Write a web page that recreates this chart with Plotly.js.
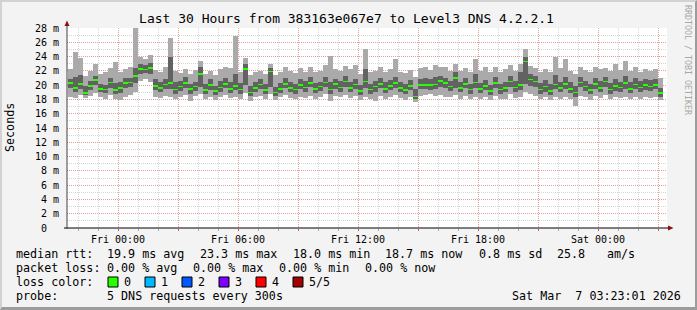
<!DOCTYPE html>
<html>
<head>
<meta charset="utf-8">
<script src="https://cdn.plot.ly/plotly-3.0.1.min.js"></script>
<style>
  html, body { margin: 0; padding: 0; background: #f3f3f3; }
  #wrap { position: relative; width: 697px; height: 310px; overflow: hidden; }
  #chart { width: 697px; height: 310px; }
  #frame { position: absolute; left: 0; top: 0; width: 697px; height: 310px; box-sizing: border-box;
           border-top: 2px solid #d2d2d2; border-left: 2px solid #d2d2d2;
           border-right: 2px solid #9c9c9c; border-bottom: 3px solid #9c9c9c; pointer-events: none; }
</style>
</head>
<body>
<div id="wrap"><div id="chart"></div><div id="frame"></div></div>
<script>
// ---- data (milliseconds), 15-minute consolidated steps starting Thu 2026-03-05 21:30 ----
const stepMinutes = 15;
const firstStep = [2026, 2, 5, 21, 30]; // year, month(0-based), day, hour, minute

const medianMs = [
  20.3,19.6,20.2,18.9, 19.9,20.7,19.5,19.4, 20.4,19.3,19.6,20.3,
  20.4,21.3,22.3,22.2, 22.4,19.9,19.6,20.1, 20.3,19.4,19.8,20.3,
  19.5,19.8,21.6,19.3, 20.0,19.2,19.7,20.2, 19.5,19.9,19.4,22.3,
  19.0,19.6,20.1,19.3, 21.9,19.0,19.5,20.2, 19.6,19.4,20.0,19.7,
  20.3,19.5,19.8,20.4, 19.4,20.2,19.7,20.5, 19.6,20.1,19.2,20.5,
  19.4,19.8,20.2,19.5, 19.9,20.3,19.6,19.3, 19.9,18.4,20.0,20.0,
  20.0,20.1,20.6,20.3, 19.8,21.0,19.6,20.2, 19.4,20.4,19.5,19.9,
  19.2,20.3,19.4,19.6, 20.5,19.7,20.0,23.3, 20.8,20.5,19.4,19.8,
  19.2,20.1,19.6,20.2, 19.5,19.0,20.4,19.8, 19.3,20.2,19.6,20.5,
  19.4,19.9,19.7,20.3, 19.5,20.1,19.7,20.0, 19.8,20.0,18.9
];
const minMs = [
  18.4,18.2,18.6,18.2, 18.5,18.9,18.3,18.1, 18.6,18.0,17.9,18.4,
  18.6,19.0,20.6,20.8, 20.4,18.4,18.2,18.5, 18.3,18.0,18.4,18.6,
  17.8,18.5,18.8,18.1, 18.3,17.9,18.4,18.6, 18.2,18.3,18.0,18.9,
  17.8,18.3,18.5,18.0, 18.7,17.9,18.3,18.6, 18.2,18.1,18.4,18.2,
  18.5,18.0,18.4,18.7, 17.8,18.5,18.3,18.6, 18.2,18.5,17.9,18.4,
  18.0,17.8,18.5,18.1, 18.3,18.6,18.2,17.9, 18.4,17.6,18.5,18.6,
  18.7,18.5,18.6,18.4, 18.3,18.6,18.1,18.5, 18.0,18.4,18.0,18.3,
  17.9,18.5,18.0,18.1, 18.7,18.2,18.4,19.0, 18.7,18.5,18.0,18.3,
  17.9,18.4,18.1,18.3, 18.0,17.1,18.5,18.3, 17.9,18.5,18.2,18.6,
  18.0,18.3,18.2,18.4, 18.0,18.4,18.1,18.3, 18.2,18.4,17.9
];
const ping2Ms = [
  19.6,19.0,19.5,18.6, 19.3,20.0,19.0,18.9, 19.6,18.8,18.9,19.6,
  19.8,20.3,21.6,21.7, 21.6,19.3,19.0,19.4, 19.5,18.8,19.2,19.6,
  18.8,19.2,19.7,18.7, 19.3,18.6,19.1,19.6, 18.9,19.3,18.8,20.0,
  18.5,19.0,19.5,18.8, 19.8,18.5,18.9,19.6, 19.0,18.8,19.4,19.1,
  19.7,18.9,19.2,19.8, 18.7,19.5,19.1,19.8, 19.0,19.4,18.6,19.6,
  18.8,19.0,19.6,18.9, 19.3,19.6,19.0,18.7, 19.3,18.0,19.4,19.4,
  19.3,19.4,19.7,19.6, 19.2,19.6,19.0,19.6, 18.8,19.6,18.9,19.3,
  18.6,19.6,18.8,19.0, 19.8,19.1,19.3,20.2, 19.9,19.7,18.8,19.1,
  18.6,19.4,19.0,19.4, 18.9,18.3,19.7,19.2, 18.7,19.5,19.0,19.8,
  18.8,19.2,19.1,19.5, 18.9,19.4,19.1,19.3, 19.2,19.4,18.4
];
const ping4Ms = [
  20.8,21.2,21.4,19.9, 20.6,21.3,20.2,20.0, 21.0,20.3,20.4,21.0,
  21.0,22.4,23.0,22.8, 23.1,20.8,20.5,20.8, 24.0,20.4,20.6,21.1,
  20.2,20.5,22.6,20.1, 20.9,19.9,20.6,21.0, 20.4,21.5,20.3,23.0,
  19.9,20.4,20.9,20.1, 22.4,19.8,20.3,21.0, 20.5,20.1,20.8,20.6,
  21.1,20.3,20.5,21.2, 20.4,20.9,20.6,21.3, 20.5,20.9,20.0,22.3,
  20.2,20.6,21.0,20.4, 20.7,21.2,20.4,20.1, 20.7,19.5,20.9,21.0,
  20.9,21.1,21.3,21.0, 20.6,21.8,20.4,21.0, 20.2,21.5,20.3,20.7,
  20.0,21.1,20.2,20.5, 21.3,20.6,21.8,24.0, 21.6,21.3,20.3,20.7,
  20.1,21.4,20.5,21.2, 20.4,19.9,21.2,20.6, 20.2,21.0,20.6,21.2,
  20.3,20.8,20.5,21.3, 20.4,21.0,20.6,20.9, 20.7,20.8,19.6
];
const maxMs = [
  22.2,24.6,23.8,21.3, 22.0,22.9,21.6,21.8, 22.4,23.3,21.9,22.3,
  22.5,28.0,24.0,23.6, 24.2,22.1,21.8,22.6, 26.6,22.0,21.7,22.3,
  21.5,22.1,23.4,21.6, 22.0,21.4,22.2,22.6, 22.4,26.9,21.9,23.8,
  21.4,21.9,22.0,21.6, 23.0,21.4,21.8,22.5, 22.0,21.7,22.4,21.9,
  22.6,21.8,22.0,22.8, 24.1,22.3,22.0,22.7, 22.3,22.8,21.5,25.0,
  21.9,22.0,22.5,21.8, 22.2,23.6,21.9,21.7, 22.1,21.2,22.4,22.6,
  22.1,22.8,22.5,22.6, 22.0,22.9,22.0,22.4, 21.8,23.7,22.0,22.6,
  21.8,22.5,21.8,22.3, 22.8,22.0,23.0,25.0, 22.7,22.4,21.9,22.2,
  21.8,23.9,22.4,23.6, 22.0,21.6,22.5,22.1, 21.8,22.6,22.2,22.4,
  22.0,22.9,22.1,23.4, 22.0,22.6,21.9,22.3, 22.0,22.2,21.0
];

// axis ticks / labels
const xRange = ['2026-03-05 21:27:00', '2026-03-07 03:27:00'];
const xGridTimes = ['2026-03-06 00:00','2026-03-06 03:00','2026-03-06 06:00','2026-03-06 09:00',
                    '2026-03-06 12:00','2026-03-06 15:00','2026-03-06 18:00','2026-03-06 21:00',
                    '2026-03-07 00:00','2026-03-07 03:00'];
const xGridLabels = ['Fri 00:00','','Fri 06:00','','Fri 12:00','','Fri 18:00','','Sat 00:00',''];
const yTickVals = [0,2,4,6,8,10,12,14,16,18,20,22,24,26,28];
const yTickLabels = ['0\u00a0\u00a0','2 m','4 m','6 m','8 m','10 m','12 m','14 m','16 m','18 m','20 m','22 m','24 m','26 m','28 m'];

const titleText = 'Last 30 Hours from 383163e067e7 to Level3 DNS 4.2.2.1';
// legend rows: text pieces with their left edge in pixels
const medianRow = ['median rtt:', '19.9 ms avg', '23.3 ms max', '18.0 ms min', '18.7 ms now', '0.8 ms sd', '25.8', 'am/s'];
const medianRowX = [16, 106.5, 199.5, 292.5, 385, 478.5, 557, 606.5];
const lossRow = ['packet loss:', '0.00 % avg', '0.00 % max', '0.00 % min', '0.00 % now'];
const lossRowX = [16, 106.5, 192.5, 278.5, 365];
const colorRowLabel = 'loss color:';
const probeRow = ['probe:', '5 DNS requests every 300s'];
const probeRowX = [16, 106.5];
const lossLabels = ['0','1','2','3','4','5/5'];
const lossColors = ['#26ff00','#00b8ff','#0059ff','#7e00ff','#ff0000','#a10000'];
const dateStamp = 'Sat Mar  7 03:23:01 2026';
const credit = 'RRDTOOL / TOBI OETIKER';

// ---- build ----
const stepMs = stepMinutes * 60000;
const t0 = Date.UTC(...firstStep);
const times = medianMs.map((_, i) => new Date(t0 + (i + 0.5) * stepMs).toISOString().slice(0, 19).replace('T', ' '));
const diff = (a, b) => a.map((v, i) => v - b[i]);
const medianBand = 0.22;

const traces = [
  { type: 'bar', x: times, base: minMs, y: diff(maxMs, minMs), width: stepMs,
    marker: { color: '#aaaaaa', line: { width: 0 } }, hoverinfo: 'skip' },
  { type: 'bar', x: times, base: ping2Ms, y: diff(ping4Ms, ping2Ms), width: stepMs,
    marker: { color: '#626262', line: { width: 0 } }, hoverinfo: 'skip' },
  { type: 'bar', x: times, base: medianMs.map(v => v - medianBand / 2), y: medianMs.map(() => medianBand), width: stepMs,
    marker: { color: lossColors[0], line: { width: 0 } }, hoverinfo: 'skip' }
];

const L = 67, T = 28, W = 600, H = 200;
const px = x => (x - L) / W;
const py = y => (T + H - y) / H;
const mono = 'DejaVu Sans Mono';
const nb = s => s.replace(/ /g, '\u00a0');
const ann = (text, x, y, extra) => Object.assign({
  xref: 'paper', yref: 'paper', x: px(x), y: py(y), text: nb(text), showarrow: false,
  xanchor: 'left', yanchor: 'middle', borderpad: 0, borderwidth: 0,
  font: { family: mono, size: 11.7, color: '#000' }
}, extra || {});

const annotations = [
  ann('Seconds', 10, 128, { xanchor: 'center', textangle: -90 }),
  ann(credit, 688, 60, { xanchor: 'center', textangle: 90, font: { family: mono, size: 8.3, color: '#a8a8a8' } }),
  ann(colorRowLabel, 16, 282),
  ann(dateStamp, 681, 296, { xanchor: 'right' })
];
medianRow.forEach((s, i) => annotations.push(ann(s, medianRowX[i], 254)));
lossRow.forEach((s, i) => annotations.push(ann(s, lossRowX[i], 268)));
probeRow.forEach((s, i) => annotations.push(ann(s, probeRowX[i], 296)));

const shapes = [
  { type: 'line', xref: 'paper', yref: 'paper', x0: px(64), x1: px(668), y0: py(228), y1: py(228), line: { color: '#000', width: 1 } },
  { type: 'line', xref: 'paper', yref: 'paper', x0: px(67), x1: px(67), y0: py(229), y1: py(23), line: { color: '#404040', width: 1 } },
  { type: 'path', xref: 'paper', yref: 'paper', path: `M ${px(64.5)} ${py(26)} L ${px(69.5)} ${py(26)} L ${px(67)} ${py(20.5)} Z`,
    fillcolor: '#8b1010', line: { width: 0 } },
  { type: 'path', xref: 'paper', yref: 'paper', path: `M ${px(668)} ${py(225.5)} L ${px(668)} ${py(230.5)} L ${px(673.5)} ${py(228)} Z`,
    fillcolor: '#8b1010', line: { width: 0 } }
];
lossLabels.forEach((lab, i) => {
  const bx = 108 + 37 * i;
  shapes.push({ type: 'rect', xref: 'paper', yref: 'paper', x0: px(bx), x1: px(bx + 10), y0: py(277), y1: py(287),
    fillcolor: lossColors[i], line: { color: '#000', width: 1 } });
  annotations.push(ann(lab, bx + 15.5, 282));
});

const gridMajor = 'rgba(255,0,0,0.26)';
const gridMinor = 'rgba(0,0,0,0.16)';
const layout = {
  width: 697, height: 310,
  margin: { l: L, r: 697 - L - W, t: T, b: 310 - T - H, pad: 0 },
  paper_bgcolor: '#f3f3f3', plot_bgcolor: '#ffffff',
  barmode: 'overlay', bargap: 0, showlegend: false,
  font: { family: mono, size: 10, color: '#000' },
  title: { text: titleText, font: { family: mono, size: 13, color: '#000' },
           xref: 'container', yref: 'container', x: 346.5 / 697, xanchor: 'center', y: 1 - 18.5 / 310, yanchor: 'middle' },
  xaxis: {
    type: 'date', range: xRange, tickmode: 'array', tickvals: xGridTimes, ticktext: xGridLabels,
    ticks: 'outside', ticklen: 2, tickcolor: 'rgba(255,0,0,0.5)', tickfont: { family: mono, size: 10 },
    showgrid: true, gridcolor: gridMajor, griddash: '1px,1px', gridwidth: 1,
    minor: { dtick: 3600000, tick0: '2026-03-06 00:00', showgrid: true, gridcolor: gridMinor, griddash: '1px,1px',
             ticks: 'outside', ticklen: 2, tickcolor: 'rgba(0,0,0,0.3)' },
    showline: false, zeroline: false, fixedrange: true
  },
  yaxis: {
    range: [0, 28], tickmode: 'array', tickvals: yTickVals, ticktext: yTickLabels, ticks: '',
    tickfont: { family: mono, size: 10 }, ticklabelstandoff: 7,
    showgrid: true, gridcolor: gridMajor, griddash: '1px,1px', gridwidth: 1,
    minor: { dtick: 1, showgrid: true, gridcolor: gridMinor, griddash: '1px,1px' },
    showline: false, zeroline: false, fixedrange: true
  },
  annotations: annotations,
  shapes: shapes
};

Plotly.newPlot('chart', traces, layout, { displayModeBar: false, staticPlot: true });
</script>
</body>
</html>
